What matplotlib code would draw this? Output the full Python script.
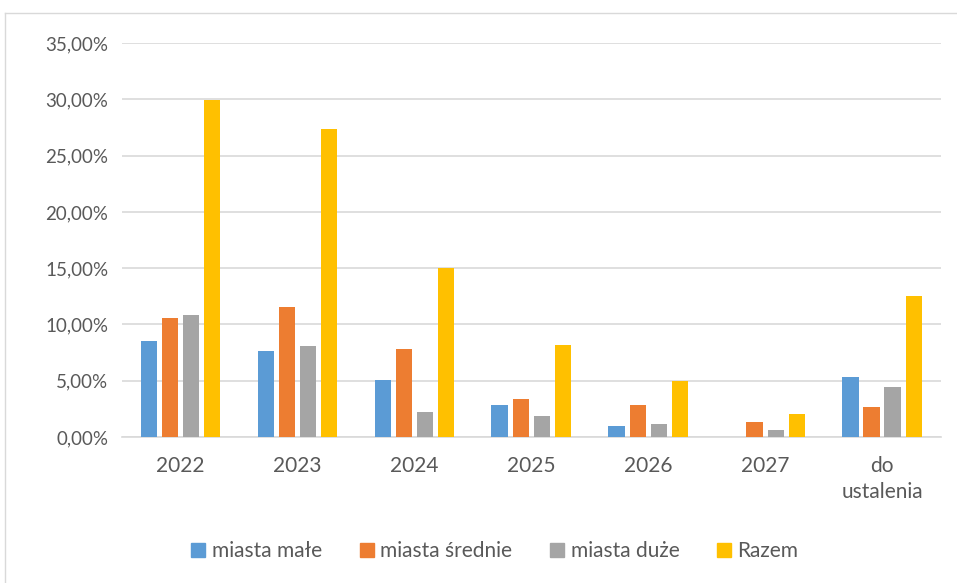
import matplotlib
matplotlib.use("Agg")
import matplotlib.pyplot as plt
import numpy as np
from matplotlib.ticker import FuncFormatter
from matplotlib.lines import Line2D

categories = ["2022", "2023", "2024", "2025", "2026", "2027", "do\nustalenia"]
series_names = ["miasta małe", "miasta średnie", "miasta duże", "Razem"]
miasta_male = [8.55, 7.66, 5.06, 2.84, 0.95, 0.0, 5.30]
miasta_srednie = [10.54, 11.55, 7.79, 3.35, 2.84, 1.33, 2.63]
miasta_duze = [10.83, 8.08, 2.19, 1.90, 1.15, 0.62, 4.42]
razem = [29.93, 27.33, 15.04, 8.20, 4.97, 2.07, 12.50]
colors = ["#5b9bd5", "#ed7d31", "#a5a5a5", "#ffc000"]

plt.rcParams['font.family'] = ['Lato', 'DejaVu Sans']

fig = plt.figure(figsize=(9.57, 5.83), dpi=100)
ax = fig.add_axes([0.1275, 0.2504, 0.8555, 0.6756])

x = np.arange(len(categories))
width = 0.142
step = 0.18
data = [miasta_male, miasta_srednie, miasta_duze, razem]
for i, (vals, c, name) in enumerate(zip(data, colors, series_names)):
    ax.bar(x + (i - 1.5) * step, vals, width=width, color=c, label=name, zorder=3)

ax.set_xlim(-0.5, len(categories) - 0.5)
ax.set_ylim(0, 35)
ax.set_yticks(np.arange(0, 35.01, 5))
ax.yaxis.set_major_formatter(FuncFormatter(lambda v, p: f"{v:.2f}".replace(".", ",") + "%"))
ax.set_xticks(x)
ax.set_xticklabels(categories, linespacing=1.35)
ax.grid(axis='y', color='#d9d9d9', linewidth=1.2, zorder=0)
for s in ["top", "right", "left"]:
    ax.spines[s].set_visible(False)
ax.spines["bottom"].set_color('#d9d9d9')
ax.spines["bottom"].set_linewidth(1.2)
ax.tick_params(axis='both', length=0, colors='#595959')
ax.tick_params(axis='y', pad=10, labelsize=13.5)
ax.tick_params(axis='x', pad=14, labelsize=15)
for lbl in ax.get_xticklabels():
    lbl.set_verticalalignment('top')

handles = [Line2D([0], [0], marker='s', linestyle='none', markersize=9.5,
                  markerfacecolor=c, markeredgecolor=c) for c in colors]
fig.legend(handles, series_names, loc='center', bbox_to_anchor=(0.517, 0.055), ncol=4,
           frameon=False, fontsize=15, labelcolor='#595959', handlelength=0.7,
           handletextpad=0.3, columnspacing=1.8)

# outer chart border
fig.add_artist(Line2D([5/957, 5/957], [0, 1 - 13/583], transform=fig.transFigure,
                      color='#d9d9d9', linewidth=1))
fig.add_artist(Line2D([5/957, 1], [1 - 13/583, 1 - 13/583], transform=fig.transFigure,
                      color='#d9d9d9', linewidth=1))

fig.savefig("out.png", dpi=100)
